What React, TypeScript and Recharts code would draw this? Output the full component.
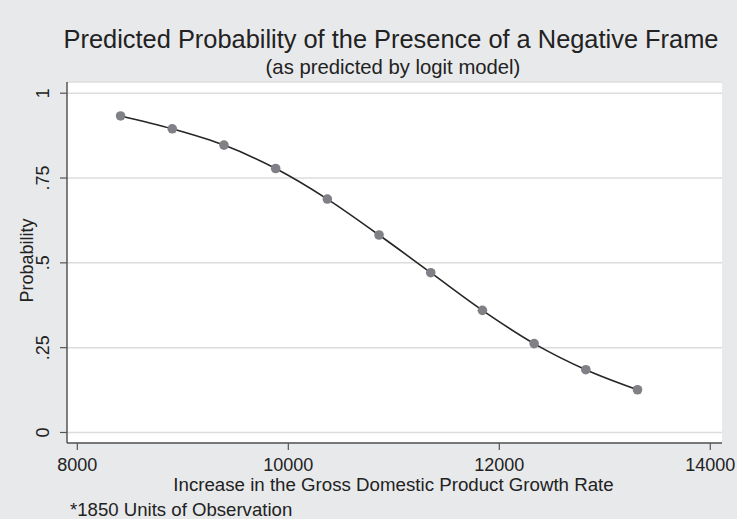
import React from 'react';
import { LineChart, Line, XAxis, YAxis, CartesianGrid, Label } from 'recharts';

// growth rate increase (x) and predicted probability (y)
const growth = [8410, 8900, 9390, 9880, 10370, 10860, 11350, 11840, 12330, 12820, 13310];
const probability = [0.933, 0.895, 0.847, 0.778, 0.688, 0.582, 0.471, 0.360, 0.262, 0.185, 0.126];

const xTicks = [8000, 10000, 12000, 14000];
const yTicks = [0, 0.25, 0.5, 0.75, 1];
const yTickLabels = ['0', '.25', '.5', '.75', '1'];

const FONT = '"Liberation Sans", Arial, Helvetica, sans-serif';
const INK = '#222';

const data = growth.map((x, i) => ({ x, p: probability[i] }));

const YTick = (props: any) => {
  const { x, y, payload } = props;
  const idx = yTicks.indexOf(payload.value);
  const bx = x - 9;
  return (
    <text
      x={bx}
      y={y}
      transform={`rotate(-90 ${bx} ${y})`}
      textAnchor="middle"
      fontSize={18}
      fontFamily={FONT}
      fill={INK}
    >
      {idx >= 0 ? yTickLabels[idx] : payload.value}
    </text>
  );
};

const XTick = (props: any) => {
  const { x, payload } = props;
  return (
    <text x={x} y={471} textAnchor="middle" fontSize={18} fontFamily={FONT} fill={INK}>
      {payload.value}
    </text>
  );
};

const App: React.FC = () => {
  return (
    <div
      style={{
        position: 'absolute',
        left: 0,
        top: 0,
        width: 737,
        height: 519,
        background: '#e8e9eb',
        fontFamily: FONT,
      }}
    >
      <svg width={737} height={519} style={{ position: 'absolute', left: 0, top: 0 }}>
        <text x={391} y={48} textAnchor="middle" fontSize={25.4} fontFamily={FONT} fill={INK}>
          Predicted Probability of the Presence of a Negative Frame
        </text>
        <text x={393} y={74} textAnchor="middle" fontSize={20.3} fontFamily={FONT} fill={INK}>
          (as predicted by logit model)
        </text>
        <text x={70} y={516} fontSize={18.6} fontFamily={FONT} fill={INK}>
          *1850 Units of Observation
        </text>
      </svg>
      <div style={{ position: 'absolute', left: 0, top: 0 }}>
        <LineChart width={737} height={519} data={data} margin={{ top: 82, right: 15, bottom: 46, left: 7 }}>
          <CartesianGrid vertical={false} stroke="#dcdcdc" strokeWidth={1.5} fill="#ffffff" />
          <XAxis
            dataKey="x"
            type="number"
            domain={[7902, 14111]}
            ticks={xTicks}
            allowDataOverflow
            height={30}
            axisLine={{ stroke: '#555', strokeWidth: 1.5 }}
            tickLine={{ stroke: '#555', strokeWidth: 1.2 }}
            tickSize={7}
            tick={<XTick />}
          >
            <Label
              content={(p: any) => {
                const vb = p.viewBox;
                return (
                  <text
                    x={vb.x + vb.width / 2 - 1}
                    y={491}
                    textAnchor="middle"
                    fontSize={18.7}
                    fontFamily={FONT}
                    fill={INK}
                  >
                    Increase in the Gross Domestic Product Growth Rate
                  </text>
                );
              }}
            />
          </XAxis>
          <YAxis
            type="number"
            domain={[-0.031, 1.033]}
            ticks={yTicks}
            allowDataOverflow
            width={60}
            axisLine={{ stroke: '#555', strokeWidth: 1.5 }}
            tickLine={{ stroke: '#555', strokeWidth: 1.2 }}
            tickSize={7}
            tick={<YTick />}
          >
            <Label
              content={(p: any) => {
                const vb = p.viewBox;
                const cx = 33;
                const cy = vb.y + vb.height / 2 - 2;
                return (
                  <text
                    x={cx}
                    y={cy}
                    transform={`rotate(-90 ${cx} ${cy})`}
                    textAnchor="middle"
                    fontSize={18}
                    fontFamily={FONT}
                    fill={INK}
                  >
                    Probability
                  </text>
                );
              }}
            />
          </YAxis>
          <Line
            type="monotone"
            dataKey="p"
            stroke="#262626"
            strokeWidth={1.6}
            dot={{ r: 4.8, fill: '#808186', stroke: 'none' }}
            activeDot={false}
            isAnimationActive={false}
          />
        </LineChart>
      </div>
    </div>
  );
};

export default App;
